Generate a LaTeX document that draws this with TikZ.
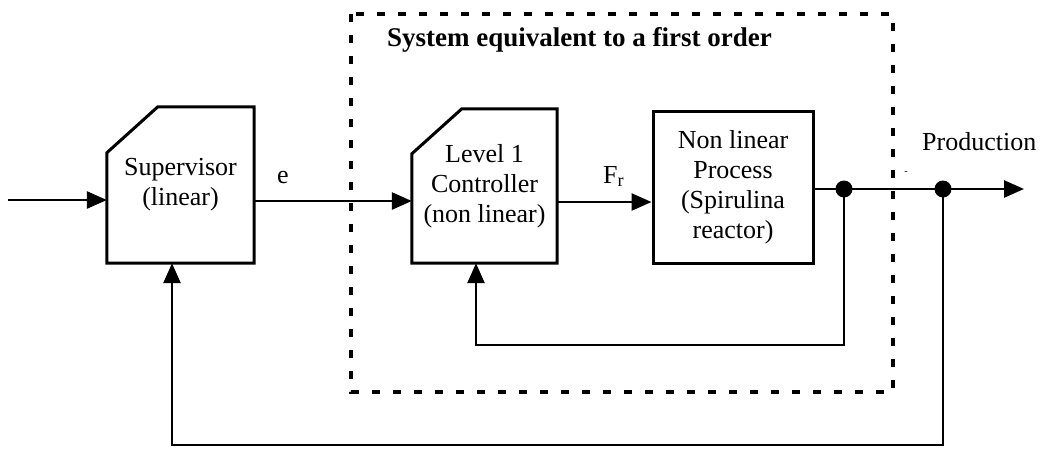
\documentclass[tikz,border=0pt]{standalone}
\usepackage{fontspec}
\setmainfont{Liberation Serif}
\usetikzlibrary{arrows.meta,calc}
\tikzset{
  blk/.style={draw=none, minimum width=#1, inner sep=0pt, align=center,
    font=\fontsize{26}{30}\selectfont},
  outline/.style={line width=3pt, line join=miter},
  conn/.style={line width=2.6pt},
  arr/.style={conn, -{Triangle[length=20pt,width=17pt]}},
  dot/.style={circle, fill=black, minimum size=17pt, inner sep=0pt},
  lbl/.style={font=\fontsize{26}{30}\selectfont, inner sep=0pt},
  frame/.style={line width=4pt, dash pattern=on 8pt off 13pt},
}
\begin{document}
\begin{tikzpicture}[x=1pt,y=-1pt]
\useasboundingbox (0,0) rectangle (1043,448);
% dashed frame
\draw[frame] (351,14) rectangle (893,392);
\node[lbl, font=\fontsize{27}{30}\selectfont\bfseries, anchor=base west] (title) at (387,46) {System equivalent to a first order};
% blocks
\node[blk=147pt, minimum height=156pt] (sup) at (180.5,185) {Supervisor\\(linear)};
\draw[outline] ([yshift=-46pt]sup.north west) -- ([xshift=51pt]sup.north west) -- (sup.north east) -- (sup.south east) -- (sup.south west) -- cycle;
\node[blk=145pt, minimum height=154pt] (ctl) at (484.5,186) {Level 1\\Controller\\(non linear)};
\draw[outline] ([yshift=-45pt]ctl.north west) -- ([xshift=50pt]ctl.north west) -- (ctl.north east) -- (ctl.south east) -- (ctl.south west) -- cycle;
\node[blk=160pt, minimum height=152pt, draw, line width=3pt] (proc) at (733,187) {Non linear\\Process\\(Spirulina\\reactor)};
% junctions
\node[dot] (j1) at (844,189) {};
\node[dot] (j2) at (943,189) {};
\coordinate (in) at (8,200);
\coordinate (out) at (1024,189);
\coordinate (fb1) at (476,345);
\coordinate (fb2) at (172,445);
% connectors
\draw[arr] (in) -- (in -| sup.west);
\draw[arr] (sup.east |- 0,201) -- (ctl.west |- 0,201);
\draw[arr] (ctl.east |- 0,202) -- (proc.west |- 0,202);
\draw[conn] (proc.east |- j1) -- (j1.center) -- (j2.center);
\draw[arr] (j2.center) -- (out);
\draw[arr] (j1.center) |- (fb1) -- (fb1 |- ctl.south);
\draw[arr] (j2.center) |- (fb2) -- (fb2 |- sup.south);
% labels
\node[lbl, anchor=base] (e) at (283,183) {e};
\node[lbl, anchor=base west] (fr) at (603,183) {F\textsubscript{r}};
\node[lbl, anchor=base west] (prod) at (922,150) {Production};
\node[inner sep=0pt, font=\fontsize{10}{10}\selectfont] (tick) at (906,173) {-};
\end{tikzpicture}
\end{document}
